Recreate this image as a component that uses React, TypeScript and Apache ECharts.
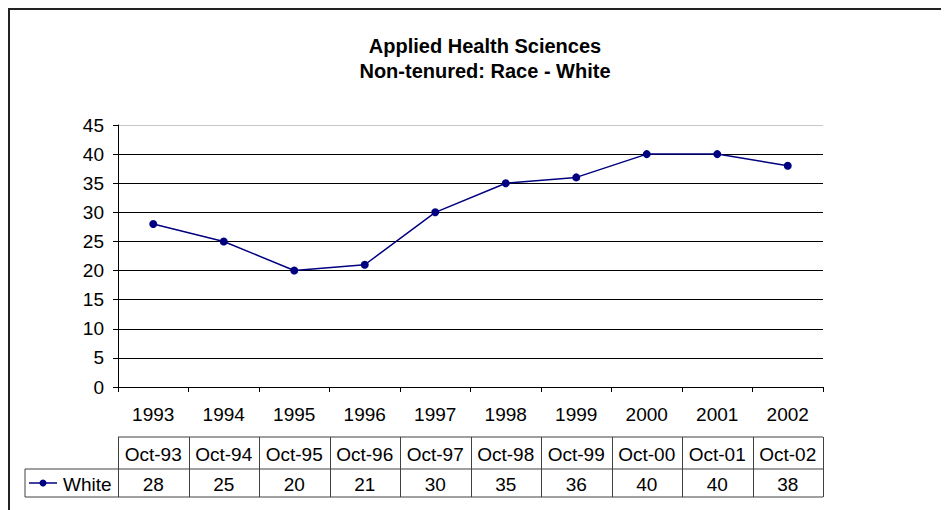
import React, { useEffect, useRef } from "react";
import * as echarts from "echarts";

const titleLines = ["Applied Health Sciences", "Non-tenured: Race - White"];
const years = ["1993", "1994", "1995", "1996", "1997", "1998", "1999", "2000", "2001", "2002"];
const tableHeaders = ["Oct-93", "Oct-94", "Oct-95", "Oct-96", "Oct-97", "Oct-98", "Oct-99", "Oct-00", "Oct-01", "Oct-02"];
const seriesName = "White";
const whiteValues = [28, 25, 20, 21, 30, 35, 36, 40, 40, 38];

const FONT = "Arial, 'Liberation Sans', sans-serif";
const NAVY = "#000080";
const FS = 19;

export default function App() {
  const ref = useRef<HTMLDivElement>(null);
  useEffect(() => {
    if (!ref.current) return;
    const chart = echarts.init(ref.current, undefined, { renderer: "svg" });
    const gridLeft = 108;
    const gridTop = 115;
    const gridW = 705;
    const gridH = 262;
    chart.setOption({
      animation: false,
      textStyle: { fontFamily: FONT },
      title: {
        text: titleLines.join("\n"),
        left: 470,
        top: 18,
        textAlign: "center",
        textStyle: { fontFamily: FONT, fontSize: 20, fontWeight: "bold", color: "#000", lineHeight: 25 },
      },
      grid: { left: gridLeft, top: gridTop, width: gridW, height: gridH, containLabel: false },
      xAxis: {
        type: "category",
        data: years,
        boundaryGap: true,
        axisLine: { lineStyle: { color: "#000", width: 1 } },
        axisTick: { show: true, length: 5, lineStyle: { color: "#000" } },
        axisLabel: { color: "#000", fontSize: FS, fontFamily: FONT, margin: 18 },
        splitLine: { show: false },
      },
      yAxis: {
        type: "value",
        min: 0,
        max: 45,
        interval: 5,
        axisLine: { show: true, lineStyle: { color: "#000", width: 1 } },
        axisTick: { show: true, length: 5, lineStyle: { color: "#000" } },
        axisLabel: { color: "#000", fontSize: FS, fontFamily: FONT, margin: 14 },
        splitLine: {
          show: true,
          lineStyle: {
            color: ["#000", "#000", "#000", "#000", "#000", "#000", "#000", "#000", "#000", "#c8c8c8"],
            width: 1,
          },
        },
      },
      series: [
        {
          name: seriesName,
          type: "line",
          data: whiteValues,
          symbol: "circle",
          symbolSize: 8,
          lineStyle: { color: NAVY, width: 1.5 },
          itemStyle: { color: NAVY },
        },
      ],
    });

    // Data table below the chart, aligned to category positions
    const rowTop = 427;
    const rowMid = 459;
    const rowBot = 487;
    const legendLeft = 15;
    const step = gridW / years.length;
    const elements: any[] = [];
    const lineStyle = { stroke: "#404040", lineWidth: 1 };
    const right = gridLeft + gridW;
    elements.push({ type: "line", shape: { x1: gridLeft, y1: rowTop, x2: right, y2: rowTop }, style: lineStyle });
    elements.push({ type: "line", shape: { x1: legendLeft, y1: rowMid, x2: right, y2: rowMid }, style: lineStyle });
    elements.push({ type: "line", shape: { x1: legendLeft, y1: rowBot, x2: right, y2: rowBot }, style: lineStyle });
    elements.push({ type: "line", shape: { x1: legendLeft, y1: rowMid, x2: legendLeft, y2: rowBot }, style: lineStyle });
    for (let i = 0; i <= years.length; i++) {
      const x = Math.round(gridLeft + i * step) + 0.5;
      elements.push({ type: "line", shape: { x1: x, y1: rowTop, x2: x, y2: rowBot }, style: lineStyle });
    }
    years.forEach((_, i) => {
      const cx = chart.convertToPixel({ xAxisIndex: 0 }, i) as number;
      elements.push({
        type: "text",
        x: cx,
        y: (rowTop + rowMid) / 2 + 1,
        style: { text: tableHeaders[i], fontSize: FS, fontFamily: FONT, fill: "#000", align: "center", verticalAlign: "middle" },
      });
      elements.push({
        type: "text",
        x: cx,
        y: (rowMid + rowBot) / 2 + 1,
        style: { text: String(whiteValues[i]), fontSize: FS, fontFamily: FONT, fill: "#000", align: "center", verticalAlign: "middle" },
      });
    });
    const ly = (rowMid + rowBot) / 2;
    elements.push({ type: "line", shape: { x1: 19, y1: ly, x2: 47, y2: ly }, style: { stroke: NAVY, lineWidth: 1.5 } });
    elements.push({ type: "circle", shape: { cx: 33, cy: ly, r: 3.5 }, style: { fill: NAVY } });
    elements.push({
      type: "text",
      x: 53,
      y: ly + 1,
      style: { text: seriesName, fontSize: FS, fontFamily: FONT, fill: "#000", align: "left", verticalAlign: "middle" },
    });
    chart.setOption({ graphic: { elements } });

    return () => chart.dispose();
  }, []);

  return (
    <div style={{ width: 937, height: 501, border: "2px solid #222", background: "#fff" }}>
      <div ref={ref} style={{ width: 937, height: 501 }} />
    </div>
  );
}
